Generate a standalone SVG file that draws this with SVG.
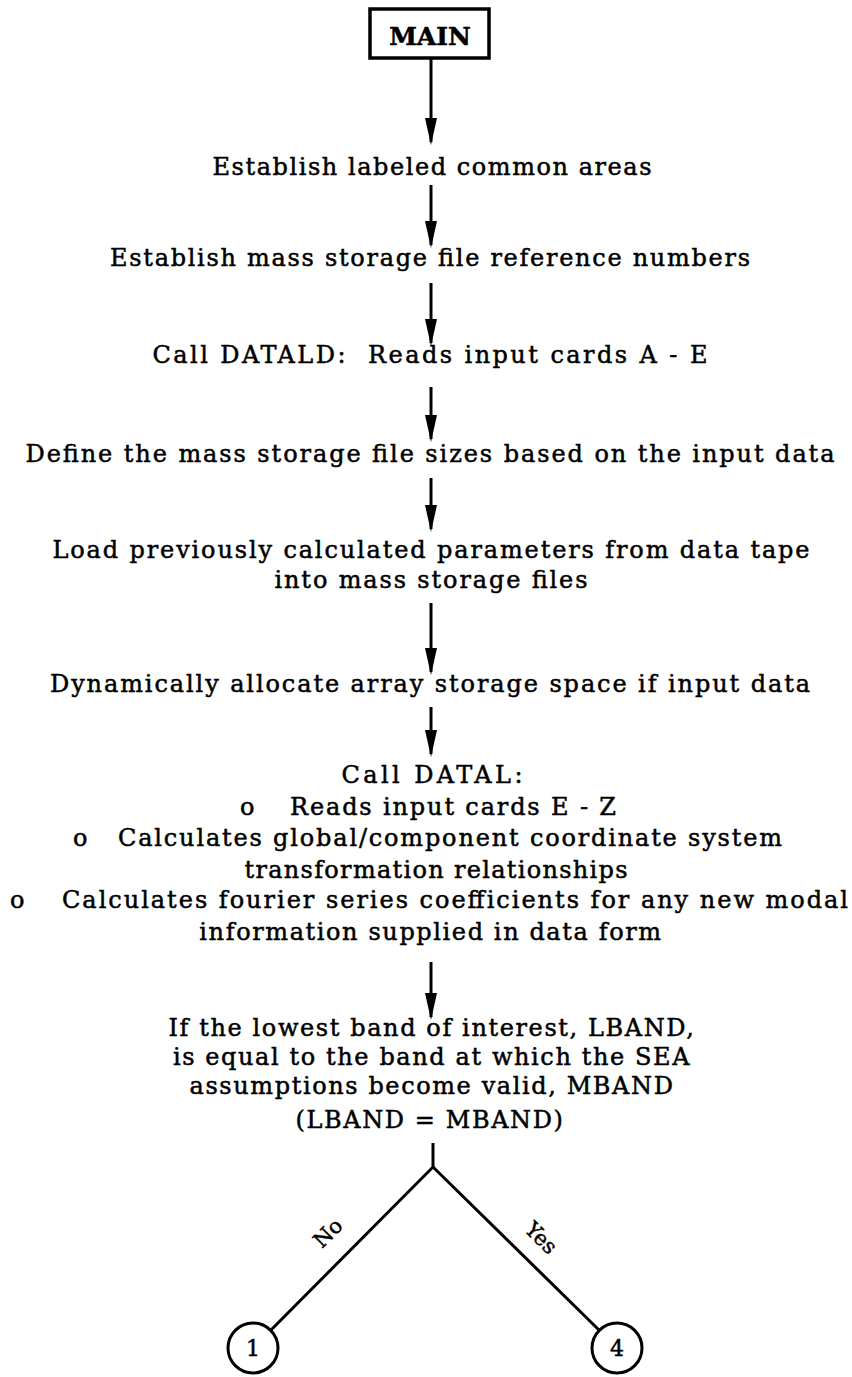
<svg xmlns="http://www.w3.org/2000/svg" width="852" height="1377" viewBox="0 0 852 1377">
<style>
  text { font-family: "DejaVu Serif", "Liberation Serif", serif; font-size: 24px; fill: #000; stroke: #000; stroke-width: 0.5; text-anchor: middle; }
  .ls { letter-spacing: 1.6px; }
  .st { text-anchor: start; }
  .ln { stroke: #000; stroke-width: 3; fill: none; }
  .arr { stroke: #000; stroke-width: 3; fill: none; marker-end: url(#ah); }
  .box { stroke: #000; stroke-width: 3.5; fill: #fff; }
  .bold { font-weight: bold; font-size: 25px; }
  .num { font-size: 22px; }
  .br { font-size: 21px; }
</style>
<defs>
  <marker id="ah" markerUnits="userSpaceOnUse" viewBox="0 -6 27 12" refX="24" refY="0" markerWidth="27" markerHeight="12" orient="auto">
    <path d="M0,-6 L27,0 L0,6 z" fill="#000"/>
  </marker>
</defs>
<rect width="852" height="1377" fill="#fff"/>

<g id="main">
  <rect class="box" x="370" y="9" width="119" height="49"/>
  <text class="bold" x="430" y="45">MAIN</text>
</g>

<g id="n1"><text x="432" y="175" textLength="439" lengthAdjust="spacing">Establish labeled common areas</text></g>
<g id="n2"><text x="430" y="266" textLength="640" lengthAdjust="spacing">Establish mass storage file reference numbers</text></g>
<g id="n3"><text x="430" y="363" textLength="555" lengthAdjust="spacing">Call DATALD:&#160; Reads input cards A - E</text></g>
<g id="n4"><text x="430" y="462" textLength="809" lengthAdjust="spacing">Define the mass storage file sizes based on the input data</text></g>
<g id="n5">
  <text x="431" y="558" textLength="757" lengthAdjust="spacing">Load previously calculated parameters from data tape</text>
  <text x="431" y="588" textLength="313" lengthAdjust="spacing">into mass storage files</text>
</g>
<g id="n6"><text x="430" y="692" textLength="760" lengthAdjust="spacing">Dynamically allocate array storage space if input data</text></g>
<g id="n7">
  <text x="432" y="783" textLength="181" lengthAdjust="spacing">Call DATAL:</text>
  <text class="st" x="240" y="815">o</text>
  <text class="st" x="290" y="815" textLength="326" lengthAdjust="spacing">Reads input cards E - Z</text>
  <text class="st" x="73" y="846">o</text>
  <text class="st" x="118" y="846" textLength="664" lengthAdjust="spacing">Calculates global/component coordinate system</text>
  <text x="436" y="878" textLength="383" lengthAdjust="spacing">transformation relationships</text>
  <text class="st" x="10" y="908">o</text>
  <text class="st" x="62" y="908" textLength="786" lengthAdjust="spacing">Calculates fourier series coefficients for any new modal</text>
  <text class="ls" x="431" y="940">information supplied in data form</text>
</g>
<g id="n8">
  <text class="ls" x="432" y="1036">If the lowest band of interest, LBAND,</text>
  <text class="ls" x="432" y="1065">is equal to the band at which the SEA</text>
  <text class="ls" x="432" y="1094">assumptions become valid, MBAND</text>
  <text class="ls" x="430" y="1128">(LBAND = MBAND)</text>
</g>
<g id="c1">
  <circle class="ln" cx="253" cy="1348" r="25"/>
  <text class="num" x="253" y="1356">1</text>
</g>
<g id="c4">
  <circle class="ln" cx="617" cy="1348" r="25"/>
  <text class="num" x="617" y="1356">4</text>
</g>

<g id="connectors">
  <line class="arr" x1="431" y1="58" x2="431" y2="142"/>
  <line class="arr" x1="431" y1="185" x2="431" y2="245"/>
  <line class="arr" x1="431" y1="283" x2="431" y2="343"/>
  <line class="arr" x1="431" y1="387" x2="431" y2="439"/>
  <line class="arr" x1="431" y1="478" x2="431" y2="529"/>
  <line class="arr" x1="431" y1="603" x2="431" y2="672"/>
  <line class="arr" x1="431" y1="707" x2="431" y2="754"/>
  <line class="arr" x1="431" y1="962" x2="431" y2="1017"/>
  <line class="ln" x1="433" y1="1143" x2="433" y2="1167"/>
  <polyline class="ln" points="271,1330 433,1167 599,1330"/>
  <text class="br" x="328" y="1240" transform="rotate(-45 328 1233)">No</text>
  <text class="br" x="541" y="1245" transform="rotate(45 541 1238)">Yes</text>
</g>
</svg>
